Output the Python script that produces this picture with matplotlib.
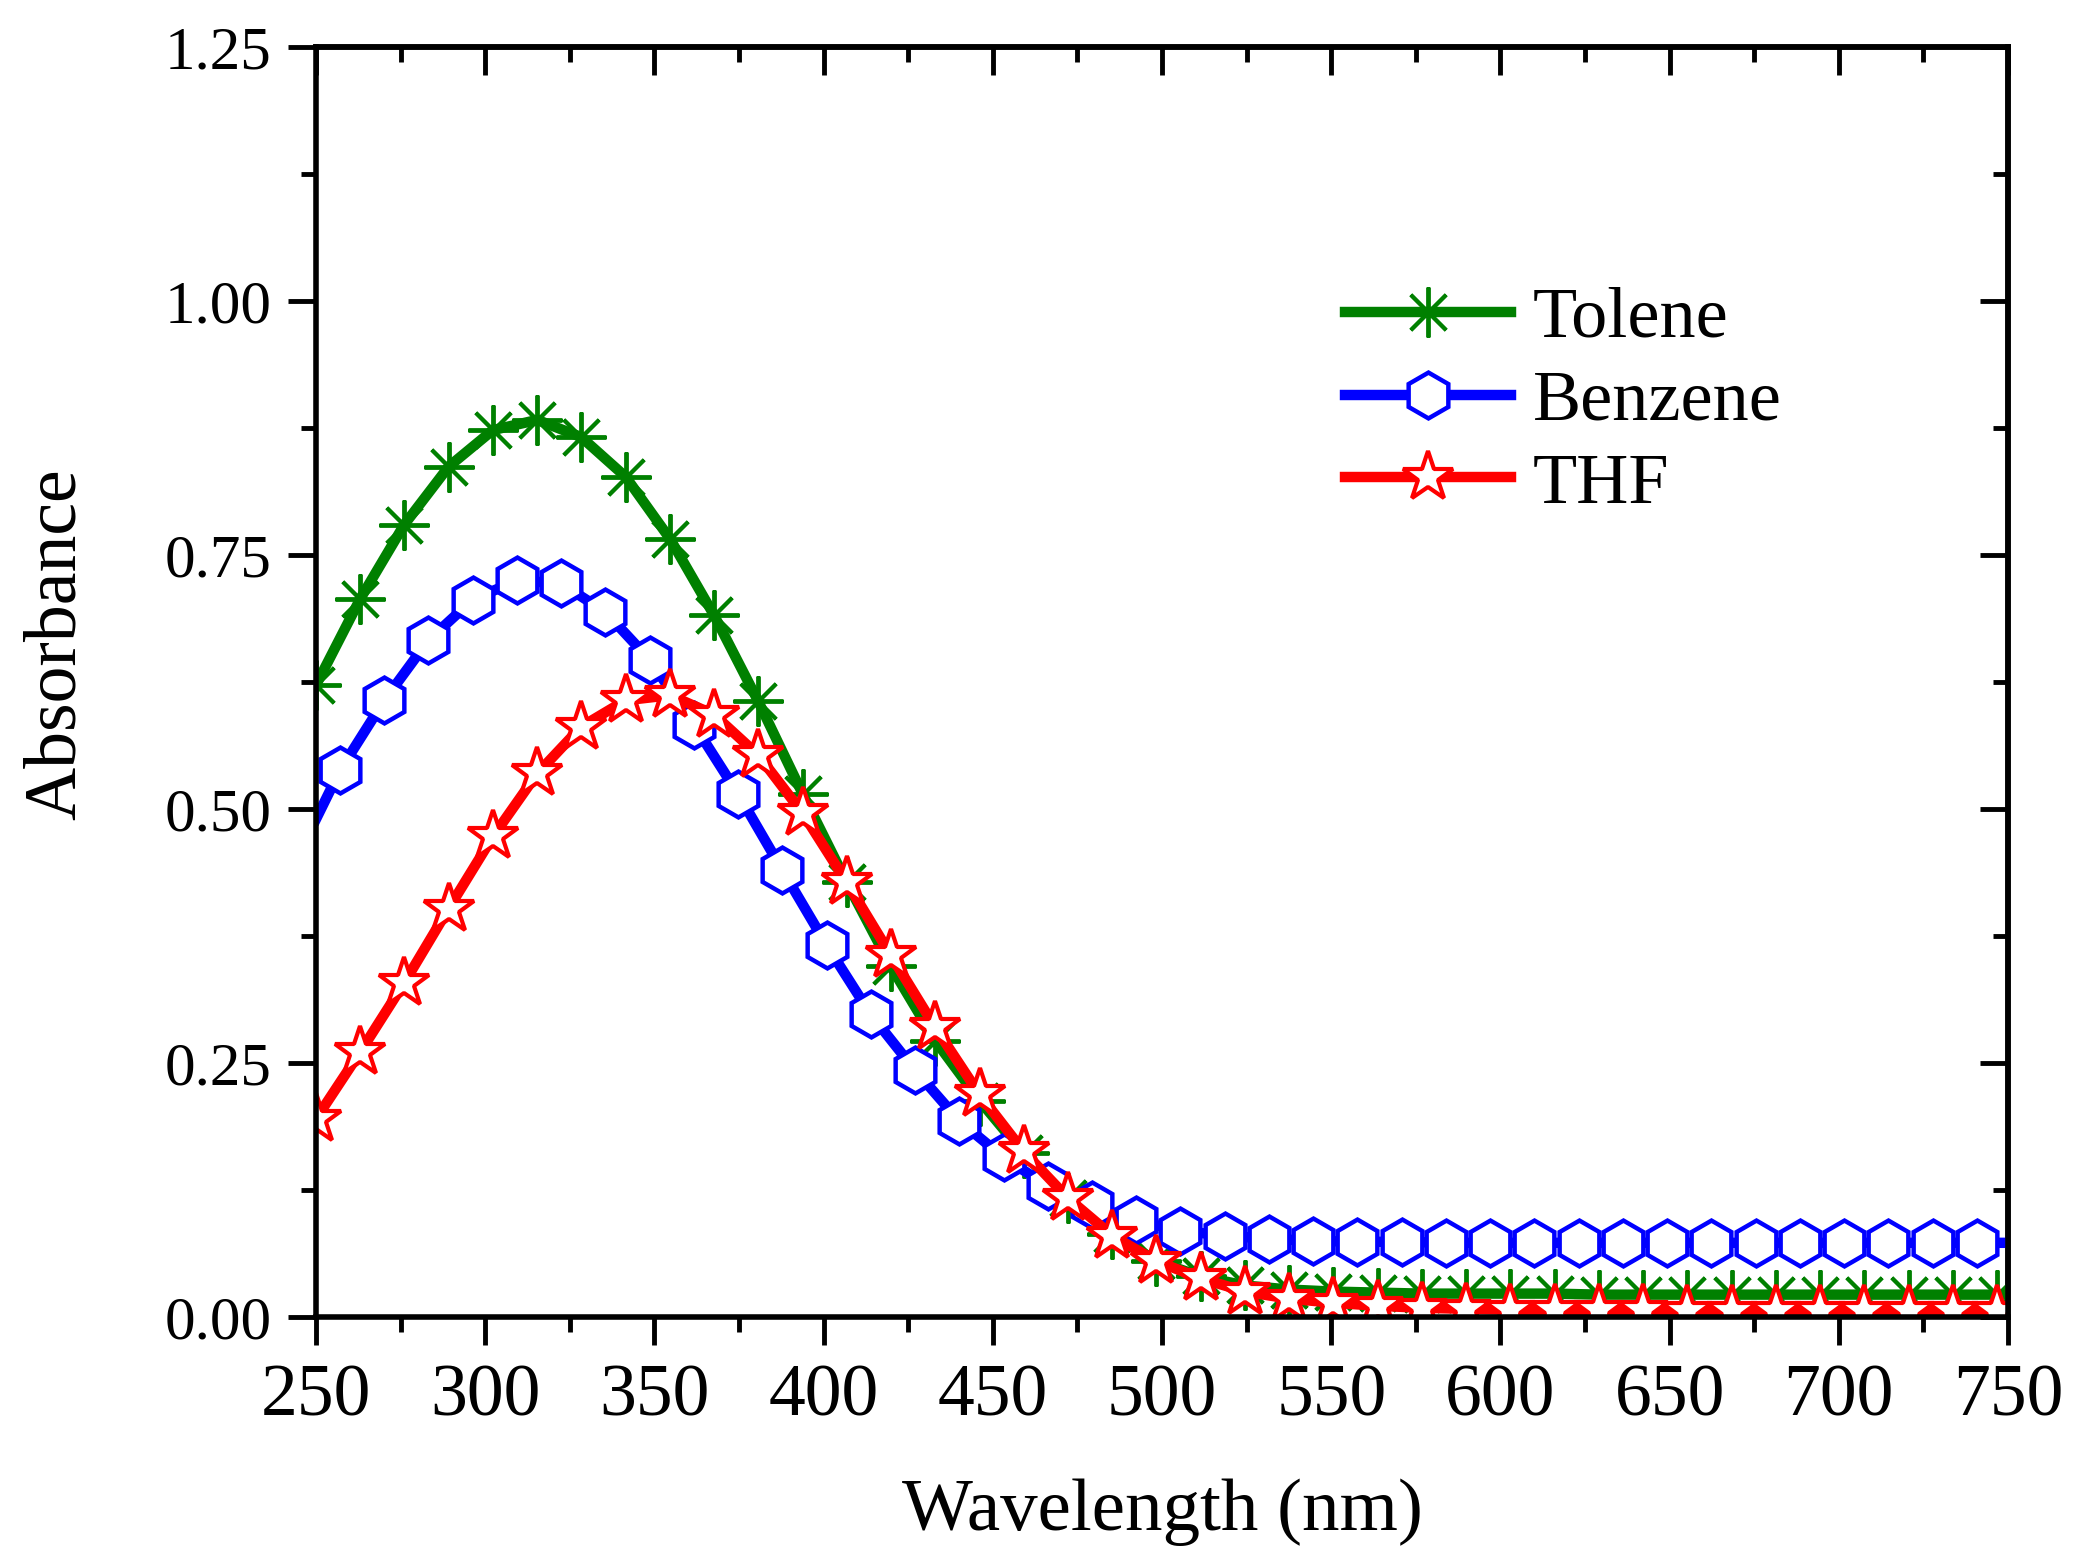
import matplotlib
matplotlib.use("Agg")
import matplotlib.pyplot as plt
from matplotlib.ticker import MultipleLocator, FormatStrFormatter

plt.rcParams['font.family'] = ['Liberation Serif', 'DejaVu Serif']

# wavelengths of the plotted points (nm)
wl_tol = [250.0, 263.1, 276.1, 289.2, 302.3, 315.4, 328.4, 341.5, 354.6, 367.6,
          380.7, 393.8, 406.8, 419.9, 433.0, 446.1, 459.1, 472.2, 485.3, 498.3,
          511.4, 524.5, 537.6, 550.6, 563.7, 576.8, 589.8, 602.9, 616.0, 629.1,
          642.1, 655.2, 668.3, 681.3, 694.4, 707.5, 720.6, 733.6, 746.7, 750.0]
tolene = [0.622, 0.707, 0.780, 0.837, 0.873, 0.883, 0.866, 0.827, 0.766, 0.691,
          0.606, 0.515, 0.428, 0.345, 0.272, 0.213, 0.161, 0.117, 0.082, 0.055,
          0.040, 0.031, 0.027, 0.025, 0.024, 0.023, 0.023, 0.023, 0.023, 0.022,
          0.022, 0.022, 0.022, 0.022, 0.022, 0.022, 0.022, 0.022, 0.022, 0.022]

wl_ben = [250.0, 257.1, 270.2, 283.2, 296.3, 309.4, 322.4, 335.5, 348.6, 361.7,
          374.7, 387.8, 400.9, 413.9, 427.0, 440.1, 453.2, 466.2, 479.3, 492.4,
          505.4, 518.5, 531.6, 544.7, 557.7, 570.8, 583.9, 596.9, 610.0, 623.1,
          636.2, 649.2, 662.3, 675.4, 688.4, 701.5, 714.6, 727.7, 740.7, 750.0]
benzene = [0.490, 0.538, 0.607, 0.666, 0.706, 0.725, 0.722, 0.694, 0.647, 0.583,
           0.515, 0.440, 0.366, 0.298, 0.243, 0.193, 0.157, 0.129, 0.110, 0.095,
           0.085, 0.080, 0.077, 0.075, 0.074, 0.074, 0.073, 0.073, 0.073, 0.073,
           0.073, 0.073, 0.073, 0.073, 0.073, 0.073, 0.073, 0.073, 0.073, 0.073]

wl_thf = wl_tol
thf = [0.195, 0.261, 0.329, 0.402, 0.473, 0.535, 0.581, 0.607, 0.612, 0.593,
       0.553, 0.496, 0.428, 0.356, 0.285, 0.219, 0.163, 0.117, 0.080, 0.055,
       0.038, 0.025, 0.018, 0.014, 0.011, 0.009, 0.008, 0.007, 0.007, 0.007,
       0.007, 0.006, 0.006, 0.006, 0.006, 0.006, 0.006, 0.006, 0.006, 0.006]

x_ticks = [250, 300, 350, 400, 450, 500, 550, 600, 650, 700, 750]

fig = plt.figure(figsize=(20.83, 15.58), dpi=100)
ax = fig.add_axes([0.1517, 0.1547, 0.8123, 0.8151])

lw = 7.5
ax.plot(wl_tol, tolene, color='#008000', lw=lw, marker=(8, 2, 0), ms=36,
        mew=2.8, markevery=list(range(len(wl_tol) - 1)), label='Tolene')
ax.plot(wl_ben, benzene, color='#0000ff', lw=lw, marker='h', ms=33,
        mew=3.2, mfc='white', markevery=list(range(1, len(wl_ben) - 1)), label='Benzene')
ax.plot(wl_thf, thf, color='#ff0000', lw=lw, marker='*', ms=38,
        mew=3, mfc='white', markevery=list(range(len(wl_thf) - 1)), label='THF')

ax.set_xlim(250, 750)
ax.set_ylim(0, 1.25)
ax.set_xticks(x_ticks)
ax.xaxis.set_minor_locator(MultipleLocator(25))
ax.yaxis.set_major_locator(MultipleLocator(0.25))
ax.yaxis.set_minor_locator(MultipleLocator(0.125))
ax.yaxis.set_major_formatter(FormatStrFormatter('%.2f'))

for s in ax.spines.values():
    s.set_linewidth(4)

ax.tick_params(axis='both', which='major', direction='out', length=20, width=3.5)
ax.tick_params(axis='both', which='minor', direction='out', length=11, width=3.5)
ax.tick_params(axis='x', labelsize=53, pad=14)
ax.tick_params(axis='y', labelsize=44, pad=12)

# top and right ticks point inwards
top = ax.secondary_xaxis('top')
top.set_xticks(x_ticks)
top.xaxis.set_minor_locator(MultipleLocator(25))
top.tick_params(which='major', direction='in', length=20, width=3.5, labeltop=False)
top.tick_params(which='minor', direction='in', length=11, width=3.5)
top.spines['top'].set_linewidth(4)
right = ax.secondary_yaxis('right')
right.yaxis.set_major_locator(MultipleLocator(0.25))
right.yaxis.set_minor_locator(MultipleLocator(0.125))
right.tick_params(which='major', direction='in', length=20, width=3.5, labelright=False)
right.tick_params(which='minor', direction='in', length=11, width=3.5)
right.spines['right'].set_linewidth(4)

ax.set_xlabel('Wavelength (nm)', fontsize=54)
ax.set_ylabel('Absorbance', fontsize=53)
ax.xaxis.label.set_va('center')
ax.yaxis.label.set_va('center')
ax.xaxis.set_label_coords(0.5, -0.154)
ax.yaxis.set_label_coords(-0.153, 0.53)

ax.legend(loc='upper left', bbox_to_anchor=(0.587, 0.84), frameon=False, fontsize=52,
          handlelength=2.3, handletextpad=0.3, labelspacing=0.24, borderpad=0)

fig.savefig('out.png', dpi=100)
